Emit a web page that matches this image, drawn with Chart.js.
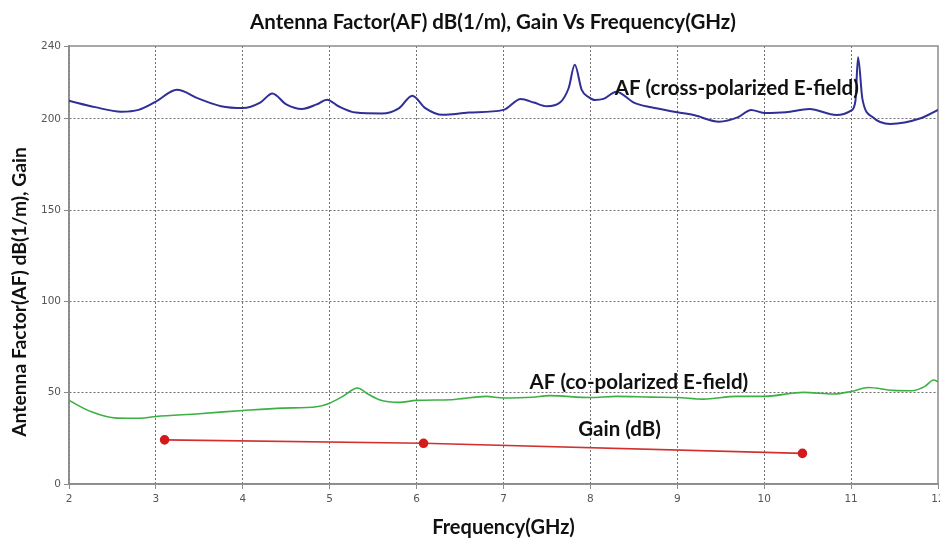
<!DOCTYPE html>
<html>
<head>
<meta charset="utf-8">
<script src="https://cdn.jsdelivr.net/npm/chart.js@4.4.1/dist/chart.umd.min.js"></script>
<style>
  html, body { margin: 0; padding: 0; background: #fff; }
  #wrap { width: 940px; height: 545px; }
</style>
</head>
<body>
<div id="wrap"><canvas id="chart"></canvas></div>
<script>
/* ── Datos ─────────────────────────────────────────────── */
const freqCross = [2.0, 2.3, 2.6, 2.8, 3.0, 3.24, 3.5, 3.75, 4.0, 4.2, 4.34, 4.5, 4.68, 4.85, 4.97,
  5.1, 5.3, 5.6, 5.8, 5.95, 6.1, 6.3, 6.6, 7.0, 7.2, 7.35, 7.5, 7.65, 7.75, 7.82, 7.9, 7.98,
  8.05, 8.15, 8.3, 8.5, 8.7, 9.0, 9.2, 9.48, 9.7, 9.85, 10.0, 10.25, 10.52, 10.83, 11.0, 11.05,
  11.08, 11.13, 11.25, 11.45, 11.8, 12.0];
const afCross = [210, 206.5, 204, 205, 209.5, 216, 211, 207, 206, 209, 214, 208, 205.5, 208, 210.6,
  207, 203.5, 203, 206, 212.8, 206, 202.3, 203.5, 205, 211, 209, 207, 209, 217, 229.7, 216, 212,
  210.4, 211, 215, 209, 206.4, 203.7, 202, 198.5, 201, 205, 203.3, 203.7, 205.5, 202.2, 204.6, 210,
  233.9, 211, 201, 197.3, 200.4, 205];

const freqCo = [2.0, 2.25, 2.55, 2.82, 3.0, 3.5, 4.0, 4.46, 4.85, 5.0, 5.15, 5.32, 5.45, 5.57, 5.8,
  6.0, 6.4, 6.8, 7.0, 7.33, 7.53, 8.0, 8.3, 8.7, 9.0, 9.3, 9.68, 10.0, 10.45, 10.8, 11.0, 11.2,
  11.48, 11.7, 11.85, 11.95, 12.0];
const afCo = [45.8, 39.7, 36.1, 36, 37, 38.5, 40.3, 41.6, 42.3, 44.3, 48, 52.6, 49, 46.2, 44.7,
  45.8, 46.2, 48, 47.1, 47.5, 48.4, 47.4, 48, 47.6, 47.4, 46.5, 48, 48, 50.2, 49.3, 50.7, 52.9,
  51.3, 51.1, 53.5, 57, 56];

const freqGain = [3.1, 6.08, 10.44];
const gainDb   = [24.2, 22.3, 16.8];

const yTicks = [0, 50, 100, 150, 200, 240];

const seriesLabels = [
  { text: 'AF (cross-polarized E-field)', x: 8.28, y: 217 },
  { text: 'AF (co-polarized E-field)',    x: 7.30, y: 55.5 },
  { text: 'Gain (dB)',                    x: 7.86, y: 29.7 },
];

const TITLE   = 'Antenna Factor(AF) dB(1/m), Gain Vs Frequency(GHz)';
const X_TITLE = 'Frequency(GHz)';
const Y_TITLE = 'Antenna Factor(AF) dB(1/m), Gain';

const zip = (xs, ys) => xs.map((x, i) => ({ x, y: ys[i] }));
const FONT = "Lato, 'Open Sans', sans-serif";

/* ── Plugins ───────────────────────────────────────────── */
const frame = {
  id: 'frame',
  beforeDatasetsDraw(chart) {
    const { ctx, chartArea: a } = chart;
    ctx.save();
    ctx.strokeStyle = '#8c8c8c';
    ctx.lineWidth = 1.5;
    ctx.strokeRect(a.left, a.top, a.right - a.left, a.bottom - a.top);
    ctx.restore();
  },
};

const textLabels = {
  id: 'textLabels',
  afterDatasetsDraw(chart) {
    const { ctx, scales: { x, y } } = chart;
    ctx.save();
    ctx.fillStyle = '#111';
    ctx.textBaseline = 'middle';
    // título
    ctx.font = `bold 20.5px ${FONT}`;
    ctx.textAlign = 'center';
    ctx.fillText(TITLE, 493, 22);
    // etiquetas de series
    ctx.textAlign = 'left';
    seriesLabels.forEach(l => ctx.fillText(l.text, x.getPixelForValue(l.x), y.getPixelForValue(l.y)));
    // título eje Y
    ctx.font = `bold 19.3px ${FONT}`;
    ctx.translate(20, 292);
    ctx.rotate(-Math.PI / 2);
    ctx.textAlign = 'center';
    ctx.fillText(Y_TITLE, 0, 0);
    ctx.restore();
  },
};

/* ── Gráfico ───────────────────────────────────────────── */
const gridColor = '#707070';

new Chart(document.getElementById('chart'), {
  type: 'line',
  data: {
    datasets: [
      {
        label: 'AF (cross-polarized E-field)',
        data: zip(freqCross, afCross),
        borderColor: '#2f2f96', borderWidth: 2,
        pointRadius: 0, cubicInterpolationMode: 'monotone',
      },
      {
        label: 'AF (co-polarized E-field)',
        data: zip(freqCo, afCo),
        borderColor: '#3cb043', borderWidth: 1.6,
        pointRadius: 0, cubicInterpolationMode: 'monotone',
      },
      {
        label: 'Gain (dB)',
        data: zip(freqGain, gainDb),
        borderColor: '#d23030', borderWidth: 1.6,
        pointRadius: 4, pointBackgroundColor: '#d41a1a', pointBorderColor: '#d41a1a',
      },
    ],
  },
  options: {
    responsive: true, maintainAspectRatio: false, animation: false,
    layout: { autoPadding: false, padding: { left: 0, right: 2, top: 46, bottom: 0 } },
    plugins: {
      legend: { display: false },
      tooltip: { enabled: false },
      title: { display: false },
    },
    scales: {
      x: {
        type: 'linear', min: 2, max: 12,
        ticks: { stepSize: 1, color: '#555', font: { family: "'DejaVu Sans'", size: 10.5 }, padding: 4, maxRotation: 0 },
        grid: { color: c => (c.tick && c.tick.value === 12 ? 'transparent' : gridColor), lineWidth: 1,
                tickColor: '#8c8c8c', tickLength: 5 },
        border: { display: true, color: '#8c8c8c', width: 1.5, dash: [2, 2] },
        title: { display: true, text: X_TITLE, color: '#111',
                 font: { family: FONT, size: 20, weight: 'bold' },
                 padding: { top: 0, bottom: 5 } },
        afterFit: s => { s.height = 61; s.paddingLeft = 0; s.paddingRight = 0; },
      },
      y: {
        min: 0, max: 240,
        afterBuildTicks: s => { s.ticks = yTicks.map(v => ({ value: v })); },
        ticks: { color: '#555', font: { family: "'DejaVu Sans'", size: 10.5 }, padding: 3 },
        grid: { color: c => (c.tick && c.tick.value === 240 ? 'transparent' : gridColor), lineWidth: 1,
                tickColor: '#8c8c8c', tickLength: 5 },
        border: { display: true, color: '#8c8c8c', width: 1.5, dash: [2, 2] },
        afterFit: s => { s.width = 69; s.paddingTop = 0; s.paddingBottom = 0; },
      },
    },
  },
  plugins: [frame, textLabels],
});
</script>
</body>
</html>
